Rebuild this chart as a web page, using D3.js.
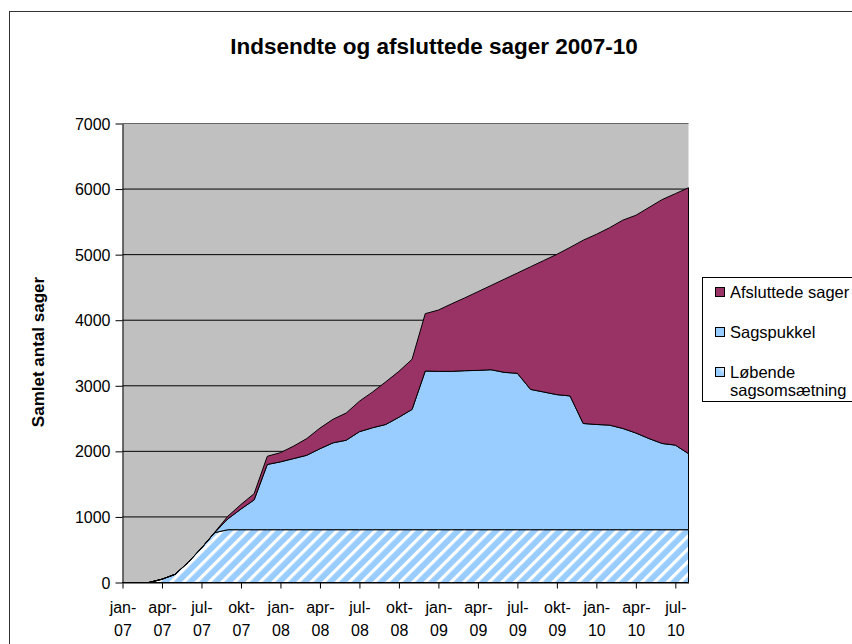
<!DOCTYPE html>
<html>
<head>
<meta charset="utf-8">
<script src="https://cdnjs.cloudflare.com/ajax/libs/d3/7.8.5/d3.min.js"></script>
<style>
    body { margin: 0; background: #fff; }
    svg text { font-family: Arial, "Liberation Sans", sans-serif; fill: #000; }
</style>
</head>
<body>
<div id="chart"></div>
<script>
// maaneder jan-07 .. aug-10
var months = ["jan-07", "feb-07", "mar-07", "apr-07", "maj-07", "jun-07", "jul-07", "aug-07", "sep-07", "okt-07", "nov-07", "dec-07",
              "jan-08", "feb-08", "mar-08", "apr-08", "maj-08", "jun-08", "jul-08", "aug-08", "sep-08", "okt-08", "nov-08", "dec-08",
              "jan-09", "feb-09", "mar-09", "apr-09", "maj-09", "jun-09", "jul-09", "aug-09", "sep-09", "okt-09", "nov-09", "dec-09",
              "jan-10", "feb-10", "mar-10", "apr-10", "maj-10", "jun-10", "jul-10", "aug-10"];

var lobende = [0, 0, 0, 50, 125, 310, 525, 760, 805, 805, 805, 805,
               805, 805, 805, 805, 805, 805, 805, 805, 805, 805, 805, 805,
               805, 805, 805, 805, 805, 805, 805, 805, 805, 805, 805, 805,
               805, 805, 805, 805, 805, 805, 805, 805];

var sagspukkel = [0, 0, 0, 0, 0, 0, 0, 0, 165, 315, 455, 995,
                  1035, 1085, 1135, 1235, 1325, 1365, 1495, 1555, 1605, 1715, 1835, 2420,
                  2415, 2415, 2425, 2430, 2440, 2400, 2385, 2140, 2100, 2060, 2040, 1620,
                  1605, 1595, 1545, 1475, 1390, 1315, 1290, 1160];

var afsluttede = [0, 0, 0, 0, 0, 0, 0, 5, 40, 70, 95, 125,
                  140, 190, 255, 315, 360, 415, 465, 545, 650, 700, 765, 875,
                  935, 1030, 1110, 1200, 1285, 1420, 1530, 1870, 2005, 2140, 2265, 2795,
                  2900, 3010, 3175, 3320, 3525, 3720, 3835, 4055];

var yTicks = [0, 1000, 2000, 3000, 4000, 5000, 6000, 7000];

function draw() {
    var width = 852, height = 644;
    var left = 122.5, right = 688.5, top = 123.5, bottom = 582.5;

    var svg = d3.select("#chart")
            .append("svg")
            .attr("width", width)
            .attr("height", height);

    var defs = svg.append("defs");

    // skravering til loebende
    var pat = defs.append("pattern")
            .attr("id", "hatch")
            .attr("patternUnits", "userSpaceOnUse")
            .attr("width", 9)
            .attr("height", 9)
            .attr("patternTransform", "rotate(45)");
    pat.append("rect").attr("width", 9).attr("height", 9).attr("fill", "#99CCFF");
    pat.append("rect").attr("width", 3.2).attr("height", 9).attr("fill", "#ffffff");

    var lg = defs.append("linearGradient")
            .attr("id", "lgrad")
            .attr("x1", 0).attr("y1", 1).attr("x2", 1).attr("y2", 0);
    lg.append("stop").attr("offset", "0%").attr("stop-color", "#99CCFF");
    lg.append("stop").attr("offset", "50%").attr("stop-color", "#99CCFF");
    lg.append("stop").attr("offset", "100%").attr("stop-color", "#ffffff");

    // ramme
    svg.append("rect")
            .attr("x", 9.5).attr("y", 11.5)
            .attr("width", 900).attr("height", 700)
            .attr("fill", "#fff")
            .attr("stroke", "#333");

    var x = d3.scalePoint().domain(months).range([left, right]);
    var y = d3.scaleLinear().domain([0, 7000]).range([bottom, top]);

    svg.append("rect")
            .attr("x", left).attr("y", top)
            .attr("width", right - left).attr("height", bottom - top)
            .attr("fill", "#C0C0C0");

    svg.append("g")
            .selectAll("line")
            .data(yTicks.slice(1))
            .enter().append("line")
            .attr("x1", left).attr("x2", right)
            .attr("y1", function(d) { return y(d); })
            .attr("y2", function(d) { return y(d); })
            .attr("stroke", function(d) { return d == 7000 ? "#666" : "#000"; })
            .attr("stroke-width", 1);

    var rows = months.map(function(m, i) {
        return { month: m, lob: lobende[i], puk: sagspukkel[i], afs: afsluttede[i] };
    });
    var layers = d3.stack().keys(["lob", "puk", "afs"])(rows);
    var fills = ["url(#hatch)", "#99CCFF", "#993366"];

    var area = d3.area()
            .x(function(d) { return x(d.data.month); })
            .y0(function(d) { return y(d[0]); })
            .y1(function(d) { return y(d[1]); });

    svg.append("g")
            .selectAll("path")
            .data(layers)
            .enter().append("path")
            .attr("d", area)
            .attr("fill", function(d, i) { return fills[i]; })
            .attr("stroke", "#000")
            .attr("stroke-width", 1)
            .attr("stroke-linejoin", "round");

    // y akse
    var yAxis = svg.append("g")
            .attr("transform", "translate(" + left + ",0)")
            .call(d3.axisLeft(y).tickValues(yTicks).tickFormat(d3.format("d"))
                .tickSize(7).tickPadding(5).tickSizeOuter(0));
    yAxis.select(".domain").attr("stroke", "#000");
    yAxis.selectAll("text").style("font-size", "16px").attr("dy", "0.35em");

    // x akse
    var xAxis = svg.append("g")
            .attr("transform", "translate(0," + bottom + ")")
            .call(d3.axisBottom(x)
                .tickValues(months.filter(function(d, i) { return i % 3 == 0; }))
                .tickSize(6).tickSizeOuter(0));
    xAxis.select(".domain").attr("stroke", "#000");
    xAxis.selectAll("text").each(function(d) {
        var parts = d.split("-");
        var t = d3.select(this).text(null).attr("y", 0).attr("dy", null).style("font-size", "16px");
        t.append("tspan").attr("x", 0).attr("y", 30).text(parts[0] + "-");
        t.append("tspan").attr("x", 0).attr("y", 53).text(parts[1]);
    });

    svg.append("text")
            .attr("x", 434).attr("y", 54)
            .attr("text-anchor", "middle")
            .style("font-size", "22.5px")
            .style("font-weight", "bold")
            .text("Indsendte og afsluttede sager 2007-10");

    svg.append("text")
            .attr("transform", "translate(44,352) rotate(-90)")
            .attr("text-anchor", "middle")
            .style("font-size", "17px")
            .style("font-weight", "bold")
            .text("Samlet antal sager");

    // legend
    var leg = svg.append("g");
    leg.append("rect")
            .attr("x", 702.5).attr("y", 277.5)
            .attr("width", 200).attr("height", 124)
            .attr("fill", "#fff").attr("stroke", "#000");

    var items = [
        { fill: "#993366", ys: 287, lines: ["Afsluttede sager"] },
        { fill: "#99CCFF", ys: 327, lines: ["Sagspukkel"] },
        { fill: "url(#lgrad)", ys: 367, lines: ["Løbende", "sagsomsætning"] }
    ];
    items.forEach(function(it) {
        leg.append("rect")
                .attr("x", 715.5).attr("y", it.ys + 0.5)
                .attr("width", 9).attr("height", 9)
                .attr("fill", it.fill).attr("stroke", "#000");
        it.lines.forEach(function(l, k) {
            leg.append("text")
                    .attr("x", 730).attr("y", it.ys + 11 + k * 18)
                    .style("font-size", "16.5px")
                    .text(l);
        });
    });
}

draw();
</script>
</body>
</html>
